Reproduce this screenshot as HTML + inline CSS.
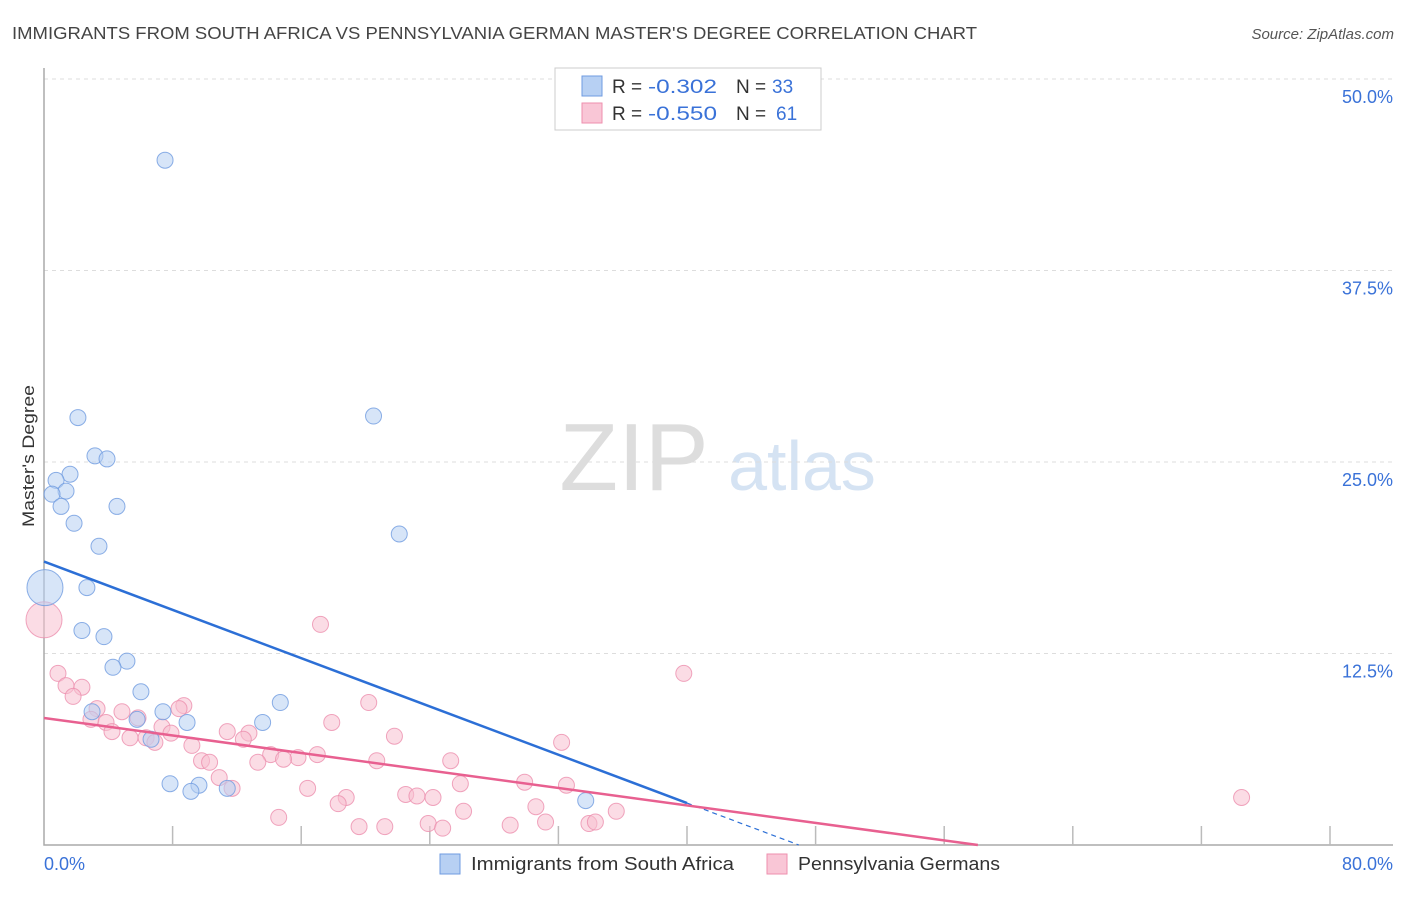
<!DOCTYPE html>
<html><head><meta charset="utf-8"><style>
body{margin:0;background:#fff;font-family:"Liberation Sans",sans-serif;}
svg text{font-family:"Liberation Sans",sans-serif;}
</style></head><body>
<svg id="chart" width="1406" height="892">
<text x="12" y="39" font-size="17.5" fill="#444" textLength="965" lengthAdjust="spacingAndGlyphs">IMMIGRANTS FROM SOUTH AFRICA VS PENNSYLVANIA GERMAN MASTER'S DEGREE CORRELATION CHART</text>
<text x="1394" y="39" font-size="15" fill="#555" font-style="italic" text-anchor="end">Source: ZipAtlas.com</text>
<text transform="translate(34,456) rotate(-90)" font-size="17" fill="#333" text-anchor="middle" textLength="142" lengthAdjust="spacingAndGlyphs">Master's Degree</text>
<g><text x="634" y="490" font-size="96" fill="#ddd" font-family="Liberation Serif,serif" text-anchor="middle">ZIP</text><text x="802" y="490" font-size="70" fill="#d5e3f3" text-anchor="middle">atlas</text></g>
<g id="grid"></g><g id="marks"></g>
<g>
<rect x="555" y="68" width="266" height="62" fill="#fff" stroke="#ccc"/>
<rect x="582" y="76" width="20" height="20" fill="#b7d0f3" stroke="#6f9be0"/>
<text x="612" y="93" font-size="19" fill="#333">R =</text>
<text x="648" y="93" font-size="19" fill="#3a72d8" textLength="69" lengthAdjust="spacingAndGlyphs">-0.302</text>
<text x="736" y="93" font-size="19" fill="#333">N =</text>
<text x="772" y="93" font-size="19" fill="#3a72d8">33</text>
<rect x="582" y="103" width="20" height="20" fill="#f9c6d6" stroke="#ee8fae"/>
<text x="612" y="120" font-size="19" fill="#333">R =</text>
<text x="648" y="120" font-size="19" fill="#3a72d8" textLength="69" lengthAdjust="spacingAndGlyphs">-0.550</text>
<text x="736" y="120" font-size="19" fill="#333">N =</text>
<text x="776" y="120" font-size="19" fill="#3a72d8">61</text>
</g>
<g>
<rect x="440" y="854" width="20" height="20" fill="#b7d0f3" stroke="#6f9be0"/>
<text x="471" y="870" font-size="18" fill="#333" textLength="263" lengthAdjust="spacingAndGlyphs">Immigrants from South Africa</text>
<rect x="767" y="854" width="20" height="20" fill="#f9c6d6" stroke="#ee8fae"/>
<text x="798" y="870" font-size="18" fill="#333" textLength="202" lengthAdjust="spacingAndGlyphs">Pennsylvania Germans</text>
</g>
</svg>
<script>
const yTicks=[12.5,25,37.5,50];
const yTickLabels=["12.5%","25.0%","37.5%","50.0%"];
const xTickLabels=["0.0%","80.0%"];
const blueX=[7.53,2.11,20.5,3.17,3.92,1.62,0.75,1.37,0.5,1.06,4.54,1.87,22.1,3.42,0.06,2.67,2.36,3.73,5.16,4.29,6.03,14.7,7.4,2.99,13.6,8.9,5.79,6.66,7.84,9.64,9.14,11.4,33.7];
const blueY=[44.7,27.9,28.0,25.4,25.2,24.2,23.8,23.1,22.9,22.1,22.1,21.0,20.3,19.5,16.8,16.8,14.0,13.6,12.0,11.6,10.0,9.3,8.7,8.7,8.0,8.0,8.2,6.9,4.0,3.9,3.5,3.7,2.9];
const pinkX=[0,17.2,39.8,0.87,1.37,2.36,1.81,8.7,8.4,3.3,4.85,2.92,5.85,3.86,20.2,17.9,7.34,4.23,11.4,12.75,7.9,5.35,6.35,6.9,12.4,21.8,9.2,32.2,17.0,14.1,15.8,14.9,25.3,20.7,9.8,13.3,10.3,10.9,11.7,25.9,29.9,32.5,16.4,22.5,23.2,24.2,18.8,18.3,30.6,26.1,35.6,74.5,14.6,19.6,21.2,23.9,24.8,29.0,31.2,33.9,34.3];
const pinkY=[14.7,14.4,11.2,11.2,10.4,10.3,9.7,9.1,8.9,8.9,8.7,8.2,8.3,8.0,9.3,8.0,7.7,7.4,7.4,7.3,7.3,7.0,7.0,6.7,6.9,7.1,6.5,6.7,5.9,5.9,5.7,5.6,5.5,5.5,5.5,5.4,5.4,4.4,3.7,4.0,4.1,3.9,3.7,3.3,3.2,3.1,3.1,2.7,2.5,2.2,2.2,3.1,1.8,1.2,1.2,1.4,1.1,1.3,1.5,1.4,1.5];
const blueTrend=[18.5,-0.394];
const pinkTrend=[8.29,-0.1427];
const NS="http://www.w3.org/2000/svg";
const X=v=>44+v/80*1286, Y=v=>845-v/50*766;
function mk(tag,attrs,parent){const e=document.createElementNS(NS,tag);for(const k in attrs)e.setAttribute(k,attrs[k]);parent.appendChild(e);return e;}
const grid=document.getElementById('grid'), marks=document.getElementById('marks');
yTicks.forEach((t,i)=>{
 const l=mk('line',{x1:44,x2:1393,y1:Y(t),y2:Y(t),stroke:'#ddd','stroke-dasharray':'4 4'},grid);
 
 
 const tx=mk('text',{x:1393,y:Y(t)+24,'font-size':18,fill:'#3a72d8','text-anchor':'end'},grid);
 tx.textContent=yTickLabels[i];
 
 
});
const ax=mk('path',{d:'M44 68V845H1393',stroke:'#aaa',fill:'none','stroke-width':1.5},grid);


for(let i=1;i<=10;i++){const t=mk('line',{x1:X(i*8),x2:X(i*8),y1:826,y2:845,stroke:'#bbb','stroke-width':1.5},grid);
 
 }
const xl0=mk('text',{x:44,y:870,'font-size':18,fill:'#3a72d8'},grid);xl0.textContent=xTickLabels[0];


const xl1=mk('text',{x:1393,y:870,'font-size':18,fill:'#3a72d8','text-anchor':'end'},grid);xl1.textContent=xTickLabels[1];


function pts(xs,ys,fill,stroke,name){xs.forEach((x,i)=>{const r=(x<0.2)?18:8;
 const c=mk('circle',{cx:X(x),cy:Y(ys[i]),r:r,fill:fill,'fill-opacity':0.55,stroke:stroke,'stroke-opacity':0.8},marks);
 
 });}
pts(pinkX,pinkY,'#f7bfd0','#ec8fae','pink-point');
pts(blueX,blueY,'#b7d0f3','#6f9be0','blue-point');
const bx0=(0-blueTrend[0])/blueTrend[1];
const bl=mk('line',{x1:X(0),y1:Y(blueTrend[0]),x2:X(40),y2:Y(blueTrend[0]+blueTrend[1]*40),stroke:'#2c6fd6','stroke-width':2.5},marks);


const bd=mk('line',{x1:X(40),y1:Y(blueTrend[0]+blueTrend[1]*40),x2:X(bx0),y2:Y(0),stroke:'#2c6fd6','stroke-width':1.2,'stroke-dasharray':'5 4'},marks);


const px0=(0-pinkTrend[0])/pinkTrend[1];
const pl=mk('line',{x1:X(0),y1:Y(pinkTrend[0]),x2:X(px0),y2:Y(0),stroke:'#e86090','stroke-width':2.5},marks);


</script>
</body></html>
